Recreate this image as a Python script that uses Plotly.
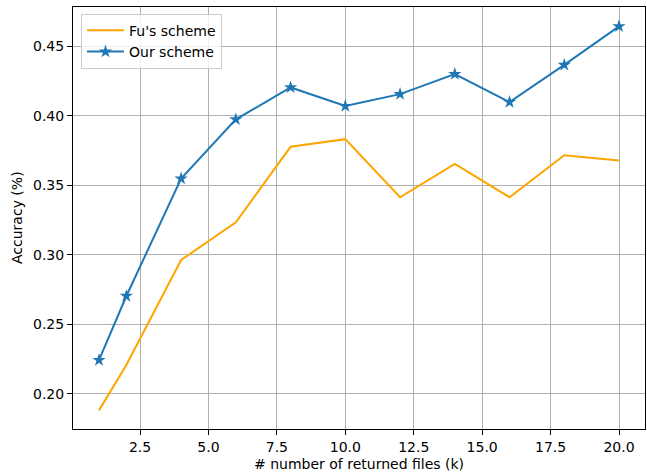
import plotly.graph_objects as go

x_values = [1, 2, 4, 6, 8, 10, 12, 14, 16, 18, 20]
fu_scheme = [0.188, 0.2206, 0.2962, 0.3234, 0.3777, 0.3832, 0.3414, 0.3654, 0.3414, 0.3716, 0.3678]
our_scheme = [0.2242, 0.2703, 0.3548, 0.3974, 0.4204, 0.4070, 0.4156, 0.4300, 0.4099, 0.4366, 0.4644]
x_ticks = [2.5, 5.0, 7.5, 10.0, 12.5, 15.0, 17.5, 20.0]
x_tick_labels = ["2.5", "5.0", "7.5", "10.0", "12.5", "15.0", "17.5", "20.0"]
y_ticks = [0.20, 0.25, 0.30, 0.35, 0.40, 0.45]
y_tick_labels = ["0.20", "0.25", "0.30", "0.35", "0.40", "0.45"]

FONT = "DejaVu Sans"
FS = 14

fig = go.Figure()
fig.add_trace(go.Scatter(
    x=x_values, y=fu_scheme, mode="lines", name="Fu's scheme",
    line=dict(color="#ffa500", width=2),
))
fig.add_trace(go.Scatter(
    x=x_values, y=our_scheme, mode="lines+markers", name="Our scheme",
    line=dict(color="#1f77b4", width=2),
    marker=dict(symbol="star", size=10, color="#1f77b4"),
))

axis_common = dict(
    showline=True, linecolor="black", linewidth=1, mirror=True,
    ticks="outside", ticklen=5, tickwidth=1, tickcolor="black",
    showgrid=True, gridcolor="#b0b0b0", gridwidth=1.1,
    zeroline=False,
    tickfont=dict(family=FONT, size=FS, color="black"),
)

fig.update_xaxes(range=[0.05, 20.95], tickvals=x_ticks, ticktext=x_tick_labels, **axis_common)
fig.update_yaxes(range=[0.1746, 0.4783], tickvals=y_ticks, ticktext=y_tick_labels, **axis_common)

fig.update_layout(
    width=647, height=472,
    margin=dict(l=73, r=2, t=7, b=43),
    paper_bgcolor="white", plot_bgcolor="white",
    font=dict(family=FONT, size=FS, color="black"),
    showlegend=True,
    legend=dict(
        x=0.014, y=0.984, xanchor="left", yanchor="top",
        bgcolor="rgba(255,255,255,0.8)", bordercolor="#cccccc", borderwidth=1,
        font=dict(family=FONT, size=FS, color="black"),
        tracegroupgap=0, itemwidth=37,
    ),
    annotations=[
        dict(text="# number of returned files (k)", xref="paper", yref="paper",
             x=0.5, y=0, yshift=-45, xanchor="center", yanchor="bottom",
             showarrow=False, font=dict(family=FONT, size=FS, color="black")),
        dict(text="Accuracy (%)", xref="paper", yref="paper",
             x=0, xshift=-66, y=0.5, xanchor="left", yanchor="middle", textangle=-90,
             showarrow=False, font=dict(family=FONT, size=FS, color="black")),
    ],
)

fig.write_html(
    "out.html",
    config={"displayModeBar": False},
    post_script="document.body.style.margin='0';document.body.style.padding='0';document.documentElement.style.overflow='hidden';",
)
